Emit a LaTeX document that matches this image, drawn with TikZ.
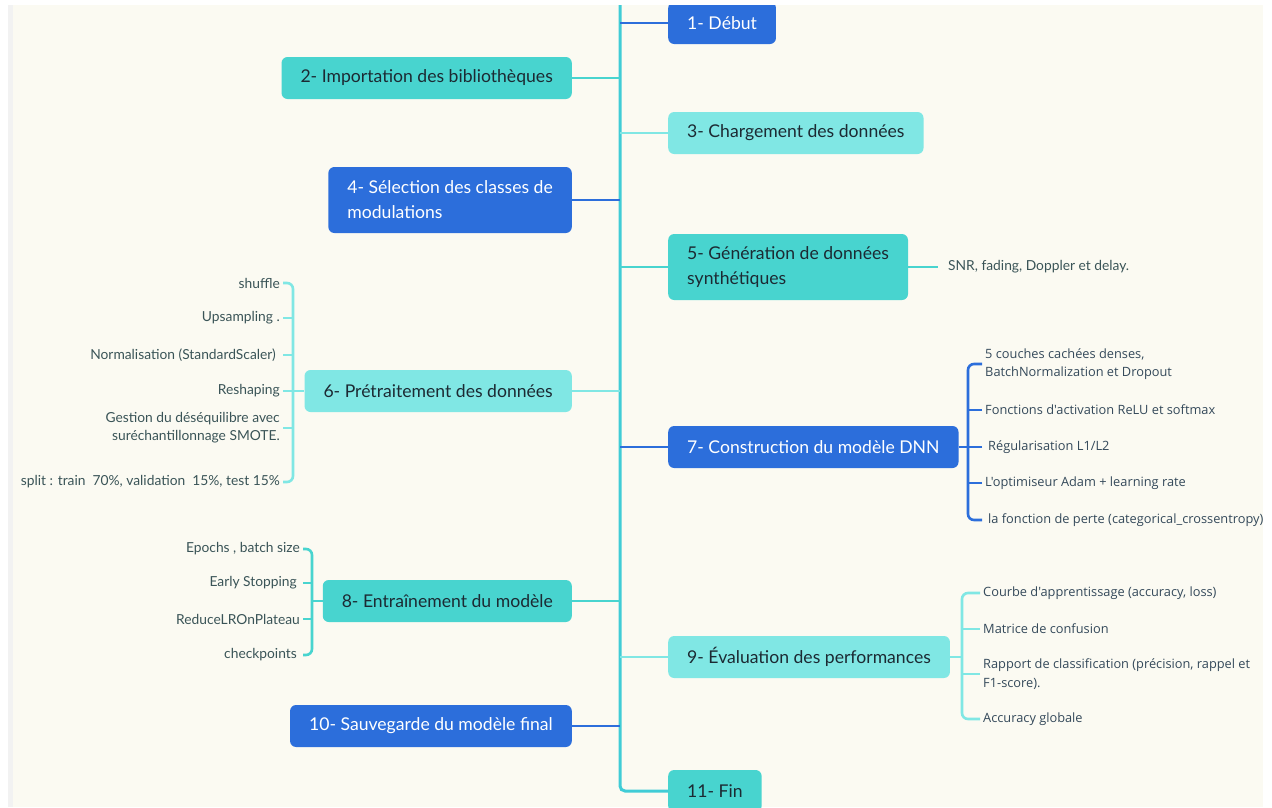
\documentclass[tikz,border=0pt]{standalone}
\usepackage{fontspec}
\setmainfont{Lato}
\newfontfamily\rfont{Open Sans}
\definecolor{cbg}{HTML}{FBFAF2}
\definecolor{cblue}{HTML}{2C6EDB}
\definecolor{cteal}{HTML}{48D4CF}
\definecolor{clight}{HTML}{80E7E4}
\definecolor{cspine}{HTML}{40CCD6}
\definecolor{ctext}{HTML}{1C2A33}
\definecolor{cchild}{HTML}{3A5457}
\definecolor{cchildr}{HTML}{34495A}
\begin{document}
\begin{tikzpicture}[x=1pt,y=-1pt,
  box/.style={rounded corners=6pt, minimum height=42pt, inner xsep=19pt, inner ysep=0pt,
    font=\fontsize{17.6}{25}\selectfont, align=left},
  tallbox/.style={box, minimum height=66pt},
  bluebox/.style={fill=cblue, text=white},
  tealbox/.style={fill=cteal, text=ctext},
  lightbox/.style={fill=clight, text=ctext},
  lchild/.style={anchor=east, inner sep=0pt, font=\fontsize{13.8}{18}\selectfont, text=cchild, align=right},
  rchild/.style={anchor=west, inner sep=0pt, font=\rfont\fontsize{12.8}{18.5}\selectfont, text=cchildr, align=left},
  spine/.style={draw=cspine, line width=3pt},
  bline/.style={draw=cblue, line width=2.6pt},
  tline/.style={draw=cteal, line width=2.6pt},
  lline/.style={draw=clight, line width=2.6pt},
  brk/.style={rounded corners=6pt}
]
\useasboundingbox (0,0) rectangle (1272,807);
\fill[white] (0,0) rectangle (1272,807);
\fill[cbg] (8,5) rectangle (1263,807);
\fill[black!5] (8,5) rectangle (13,807);
\begin{scope}
\clip (8,5) rectangle (1263,807);

% main boxes
\node[box, bluebox, anchor=west] (n1) at (668,23) {1- Début};
\node[box, tealbox, anchor=east] (n2) at (572,78) {2- Importation des bibliothèques};
\node[box, lightbox, anchor=west] (n3) at (668,133) {3- Chargement des données};
\node[tallbox, bluebox, anchor=east] (n4) at (572,200) {4- Sélection des classes de\\modulations};
\node[tallbox, tealbox, anchor=west] (n5) at (668,267) {5- Génération de données\\synthétiques};
\node[box, lightbox, anchor=east] (n6) at (572,391) {6- Prétraitement des données};
\node[box, bluebox, anchor=west] (n7) at (668,447) {7- Construction du modèle DNN};
\node[box, tealbox, anchor=east] (n8) at (572,601) {8- Entraînement du modèle};
\node[box, lightbox, anchor=west] (n9) at (668,657) {9- Évaluation des performances};
\node[box, bluebox, anchor=east] (n10) at (572,726) {10- Sauvegarde du modèle final};
\node[box, tealbox, anchor=west] (n11) at (668,791) {11- Fin};

% spine and branches
\coordinate (sTop) at (620,5);
\draw[spine, rounded corners=5pt] (sTop) |- (n11.west);
\draw[bline] (n1.west) -- (n1.west -| sTop);
\draw[tline] (n2.east) -- (n2.east -| sTop);
\draw[lline] (n3.west) -- (n3.west -| sTop);
\draw[bline] (n4.east) -- (n4.east -| sTop);
\draw[tline] (n5.west) -- (n5.west -| sTop);
\draw[lline] (n6.east) -- (n6.east -| sTop);
\draw[bline] (n7.west) -- (n7.west -| sTop);
\draw[tline] (n8.east) -- (n8.east -| sTop);
\draw[lline] (n9.west) -- (n9.west -| sTop);
\draw[bline] (n10.east) -- (n10.east -| sTop);

% step 5 detail
\node[lchild, anchor=west] (c51) at (948,267) {SNR, fading, Doppler et delay.};
\draw[tline, shorten >=10pt] (n5.east) -- (c51.west);

% step 6 details
\node[lchild] (c61) at (280,283) {shuffle};
\node[lchild] (c62) at (280,318) {Upsampling .};
\node[lchild] (c63) at (276,355) {Normalisation (StandardScaler)};
\node[lchild] (c64) at (280,391) {Reshaping};
\node[lchild] (c65) at (280,428) {Gestion du déséquilibre avec\\suréchantillonnage SMOTE.};
\node[lchild] (c66) at (280,482) {split : train\ \ 70\%, validation\ \ 15\%, test 15\%};
\coordinate (b6) at (293,391);
\draw[lline, brk] ([xshift=3pt]c61.east) -| (b6) |- ([xshift=3pt]c66.east);
\draw[lline] ([xshift=3pt]c62.east) -- (c62.east -| b6);
\draw[lline] ([xshift=7pt]c63.east) -- (c63.east -| b6);
\draw[lline] ([xshift=3pt]c64.east) -- (c64.east -| b6);
\draw[lline] ([xshift=3pt]c65.east) -- (c65.east -| b6);
\draw[lline] (b6) -- (n6.west);

% step 7 details
\node[rchild] (c71) at (985,364) {5 couches cachées denses,\\BatchNormalization et Dropout};
\node[rchild] (c72) at (985,410) {Fonctions d'activation ReLU et softmax};
\node[rchild] (c73) at (988,447) {Régularisation L1/L2};
\node[rchild] (c74) at (985,483) {L'optimiseur Adam + learning rate};
\node[rchild] (c75) at (988,520) {la fonction de perte (categorical\_crossentropy)};
\coordinate (b7) at (968,447);
\draw[bline, brk] ([xshift=-3pt]c71.west) -| (b7) |- ([xshift=-6pt]c75.west);
\draw[bline] ([xshift=-3pt]c72.west) -- (c72.west -| b7);
\draw[bline] ([xshift=-6pt]c73.west) -- (c73.west -| b7);
\draw[bline] ([xshift=-3pt]c74.west) -- (c74.west -| b7);
\draw[bline] (n7.east) -- (b7);

% step 8 details
\node[lchild] (c81) at (300,549) {Epochs , batch size};
\node[lchild] (c82) at (297,583) {Early Stopping};
\node[lchild] (c83) at (300,619) {ReduceLROnPlateau};
\node[lchild] (c84) at (297,655) {checkpoints};
\coordinate (b8) at (312,601);
\draw[tline, brk] ([xshift=3pt]c81.east) -| (b8) |- ([xshift=6pt]c84.east);
\draw[tline] ([xshift=6pt]c82.east) -- (c82.east -| b8);
\draw[tline] ([xshift=3pt]c83.east) -- (c83.east -| b8);
\draw[tline] (b8) -- (n8.west);

% step 9 details
\node[rchild] (c91) at (983,593) {Courbe d'apprentissage (accuracy, loss)};
\node[rchild] (c92) at (983,629) {Matrice de confusion};
\node[rchild] (c93) at (983,674) {Rapport de classification (précision, rappel et\\F1-score).};
\node[rchild] (c94) at (983,719) {Accuracy globale};
\coordinate (b9) at (962,657);
\draw[lline, brk] ([xshift=-3pt]c91.west) -| (b9) |- ([xshift=-3pt]c94.west);
\draw[lline] ([xshift=-3pt]c92.west) -- (c92.west -| b9);
\draw[lline] ([xshift=-3pt]c93.west) -- (c93.west -| b9);
\draw[lline] (n9.east) -- (b9);
\end{scope}
\end{tikzpicture}
\end{document}
